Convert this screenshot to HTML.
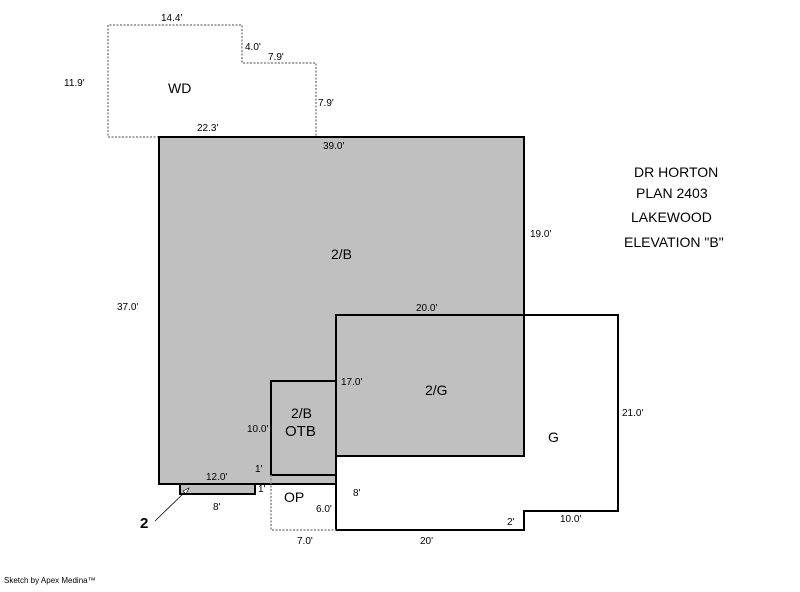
<!DOCTYPE html>
<html><head><style>
html,body{margin:0;padding:0;background:#fff;}
svg text{font-family:"Liberation Sans",Arial,sans-serif;}
</style></head><body>
<svg width="800" height="587" viewBox="0 0 800 587" xmlns="http://www.w3.org/2000/svg">
<rect width="800" height="587" fill="#fff"/>
<!-- WD dotted -->
<polyline points="159,137 108,137 108,25 242,25 242,63 316,63 316,137" fill="none" stroke="#888" stroke-width="1.5" stroke-dasharray="2,1.5"/>
<!-- main 2/B -->
<rect x="159" y="137" width="365" height="347" fill="#c0c0c0" stroke="#000" stroke-width="2"/>
<!-- G outline -->
<polygon points="336,315 618,315 618,511 524,511 524,530 336,530" fill="#fff" stroke="#000" stroke-width="2"/>
<!-- 2/G -->
<rect x="336" y="315" width="188" height="141" fill="#c0c0c0" stroke="#000" stroke-width="2"/>
<!-- OTB -->
<rect x="271" y="381" width="65" height="94" fill="#c0c0c0" stroke="#000" stroke-width="2"/>
<!-- OP dotted -->
<polyline points="271,475 271,530 336,530" fill="none" stroke="#888" stroke-width="1.5" stroke-dasharray="2,1.5"/>
<!-- bump -->
<rect x="180" y="484" width="75" height="10" fill="#c0c0c0" stroke="#000" stroke-width="2"/>
<!-- arrow -->
<line x1="155" y1="521" x2="187" y2="490" stroke="#000" stroke-width="0.8"/>
<polygon points="189,488 183,491 186,494" fill="#fff" stroke="#000" stroke-width="0.6"/>
<g font-size="10" fill="#000">
<text x="161" y="21">14.4'</text>
<text x="64" y="86">11.9'</text>
<text x="245" y="50">4.0'</text>
<text x="268" y="60">7.9'</text>
<text x="318" y="106">7.9'</text>
<text x="197" y="131">22.3'</text>
<text x="323" y="149">39.0'</text>
<text x="530" y="237">19.0'</text>
<text x="117" y="310">37.0'</text>
<text x="416" y="311">20.0'</text>
<text x="341" y="385">17.0'</text>
<text x="247" y="432">10.0'</text>
<text x="622" y="416">21.0'</text>
<text x="206" y="480">12.0'</text>
<text x="255" y="472">1'</text>
<text x="258" y="492">1'</text>
<text x="213" y="510">8'</text>
<text x="353" y="496">8'</text>
<text x="316" y="512">6.0'</text>
<text x="507" y="525">2'</text>
<text x="560" y="522">10.0'</text>
<text x="297" y="544">7.0'</text>
<text x="420" y="544">20'</text>
</g>
<g font-size="14" fill="#000">
<text x="168" y="93">WD</text>
<text x="331" y="259">2/B</text>
<text x="425" y="395">2/G</text>
<text x="548" y="442">G</text>
<text x="291" y="418">2/B</text>
<text x="285" y="436" font-size="15">OTB</text>
<text x="284" y="502">OP</text>
<text x="140" y="528" font-size="15" font-weight="bold">2</text>
<text x="634" y="177">DR HORTON</text>
<text x="636" y="198">PLAN 2403</text>
<text x="631" y="222">LAKEWOOD</text>
<text x="624" y="247">ELEVATION "B"</text>
</g>
<text x="4" y="583" font-size="8" fill="#000">Sketch by Apex Medina™</text>
</svg>
</body></html>
